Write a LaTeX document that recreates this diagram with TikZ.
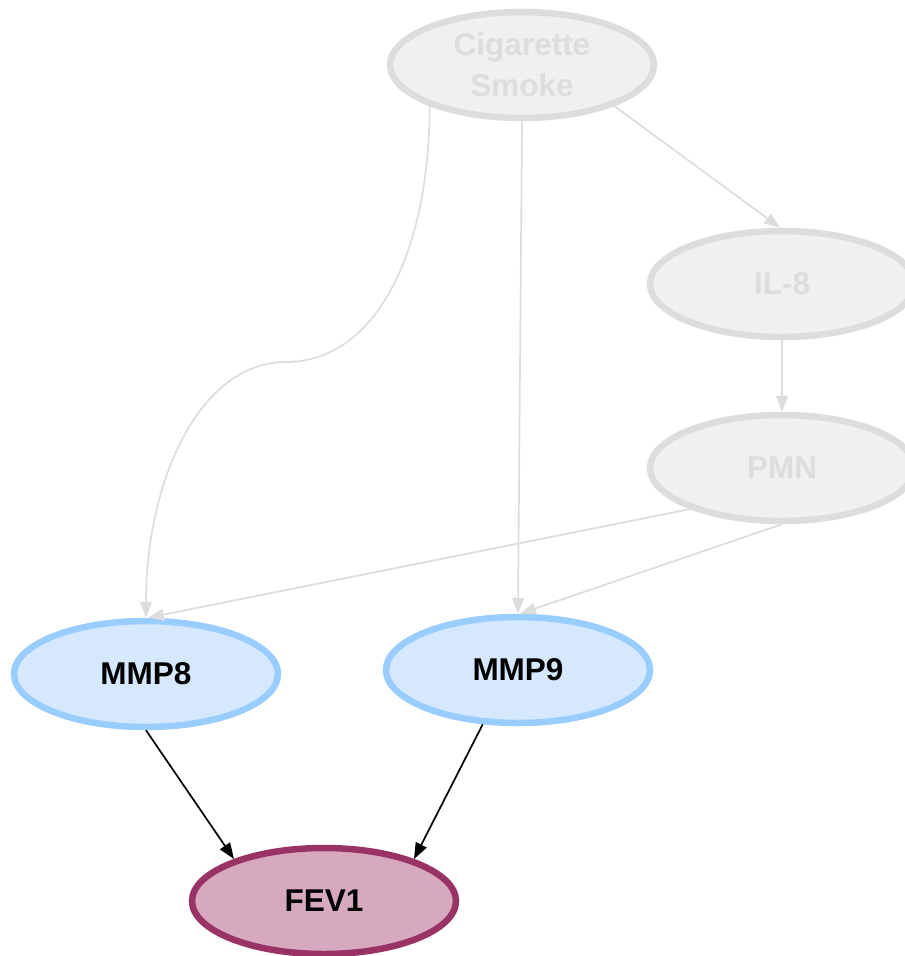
\documentclass[tikz,border=0pt]{standalone}
\usepackage{fontspec}
\setmainfont{Liberation Sans}
\usetikzlibrary{arrows.meta,shapes.geometric}
\definecolor{fadeline}{HTML}{DDDDDD}
\definecolor{fadefill}{HTML}{F0F0F0}
\definecolor{blueline}{HTML}{99CCFF}
\definecolor{bluefill}{HTML}{D6E8FF}
\definecolor{plumline}{HTML}{993366}
\definecolor{plumfill}{HTML}{D6A9BF}
\tikzset{
  base/.style={ellipse, line width=6.5pt, minimum width=264pt, minimum height=106pt,
    inner sep=0pt, align=center, font=\fontsize{31.5}{41}\selectfont\bfseries},
  faded/.style={base, draw=fadeline, fill=fadefill, text=fadeline},
  marker/.style={base, draw=blueline, fill=bluefill, text=black},
  outcome/.style={base, draw=plumline, fill=plumfill, text=black},
  fadedge/.style={draw=fadeline, line width=1.7pt, -{Triangle[length=16pt,width=12pt]}},
  mainedge/.style={draw=black, line width=1.7pt, -{Triangle[length=16pt,width=12pt]}}
}
\begin{document}
\begin{tikzpicture}[x=1pt,y=-1pt]
\useasboundingbox (0,0) rectangle (905,956);
\node[faded]   (cs)   at (522,65)  {Cigarette\\Smoke};
\node[faded]   (il8)  at (782,284) {IL-8};
\node[faded]   (pmn)  at (782,468) {PMN};
\node[marker]  (mmp8) at (146,674) {MMP8};
\node[marker]  (mmp9) at (518,670) {MMP9};
\node[outcome] (fev1) at (324,901) {FEV1};
\coordinate (bend) at (286,362);

\draw[fadedge] (cs.-24) -- (il8.92);
\draw[fadedge] (il8.south) -- (pmn.north);
\draw[fadedge] (cs.south) -- (mmp9.north);
\draw[fadedge] (cs.204) .. controls (429,260) and (372,362) .. (bend)
  .. controls (200,362) and (146,480) .. (mmp8.north);
\draw[fadedge] (pmn.204) -- (mmp8.88);
\draw[fadedge] (pmn.south) -- (mmp9.88);
\draw[mainedge] (mmp8.south) -- (fev1.155);
\draw[mainedge] (mmp9.237) -- (fev1.25);
\end{tikzpicture}
\end{document}
